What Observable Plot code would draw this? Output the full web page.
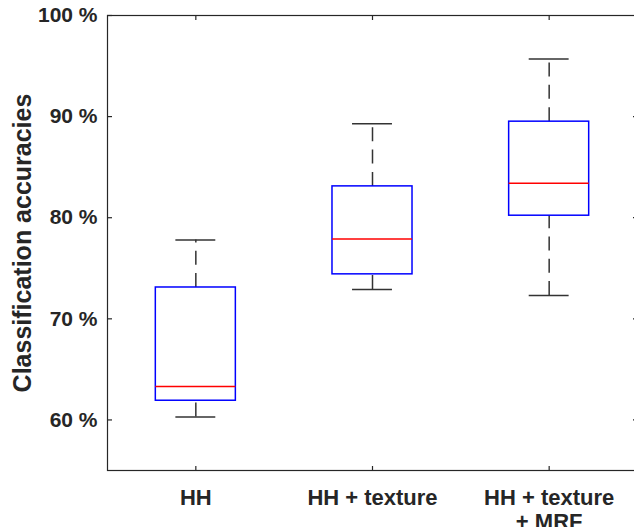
<!DOCTYPE html>
<html><head><meta charset="utf-8">
<script src="https://cdn.jsdelivr.net/npm/d3@7"></script>
<script src="https://cdn.jsdelivr.net/npm/@observablehq/plot@0.6"></script>
<style>
body{margin:0;background:#fff;overflow:hidden}
#chart{width:634px;height:527px;overflow:hidden}
#chart svg{max-width:none !important}
</style></head><body><div id="chart"></div>
<script>
const categories = ["HH", "HH + texture", "HH + texture\n+ MRF"];
const whiskerLow = [60.3, 72.9, 72.3];
const q1 = [61.9, 74.4, 80.2];
const median = [63.3, 77.9, 83.4];
const q3 = [73.1, 83.1, 89.5];
const whiskerHigh = [77.8, 89.3, 95.7];
const yTicks = [60, 70, 80, 90, 100];
const yLabel = "Classification accuracies";

const data = categories.map((c, i) => ({
  pos: i + 1, c,
  lo: whiskerLow[i], q1: q1[i], med: median[i], q3: q3[i], hi: whiskerHigh[i]
}));
const BW = 0.2265, CW = 0.113;
const ink = "#262626";

const chart = Plot.plot({
  width: 640, height: 527,
  marginLeft: 107, marginRight: 3, marginTop: 15, marginBottom: 57,
  style: {fontFamily: "'Liberation Sans', Arial, sans-serif", fontSize: "21px", fontWeight: "bold", color: ink, background: "#fff", maxWidth: "none"},
  x: {type: "linear", domain: [0.5, 3.5]},
  y: {domain: [55, 100]},
  marks: [
    Plot.frame({stroke: ink, strokeWidth: 1.2}),
    Plot.axisY(yTicks, {anchor: "left", tickSize: -5, tickPadding: 15, tickFormat: d => d + " %", label: null, strokeWidth: 1.2}),
    Plot.axisY(yTicks, {anchor: "right", tickSize: -5, tickFormat: () => "", label: null, strokeWidth: 1.2}),
    Plot.axisX([1, 2, 3], {anchor: "bottom", tickSize: -4, tickPadding: 21, tickFormat: i => categories[i - 1], fontSize: 22, lineHeight: 1.09, label: null, strokeWidth: 1.2}),
    Plot.axisX([1, 2, 3], {anchor: "top", tickSize: -4, tickFormat: () => "", label: null, strokeWidth: 1.2}),
    Plot.text([yLabel], {text: d => d, frameAnchor: "left", textAnchor: "middle", lineAnchor: "middle", rotate: -90, dx: -85, fontSize: 25, fill: ink}),
    Plot.ruleX(data, {x: "pos", y1: "lo", y2: "q1", stroke: "#333", strokeWidth: 1.5, strokeDasharray: "14,8.3"}),
    Plot.ruleX(data, {x: "pos", y1: "q3", y2: "hi", stroke: "#333", strokeWidth: 1.5, strokeDasharray: "14,8.3"}),
    Plot.ruleY(data, {y: "lo", x1: d => d.pos - CW, x2: d => d.pos + CW, stroke: "#333", strokeWidth: 1.5}),
    Plot.ruleY(data, {y: "hi", x1: d => d.pos - CW, x2: d => d.pos + CW, stroke: "#333", strokeWidth: 1.5}),
    Plot.rect(data, {x1: d => d.pos - BW, x2: d => d.pos + BW, y1: "q1", y2: "q3", fill: "none", stroke: "#0000ff", strokeWidth: 1.5}),
    Plot.ruleY(data, {y: "med", x1: d => d.pos - BW, x2: d => d.pos + BW, stroke: "#ff0000", strokeWidth: 1.5})
  ]
});
document.getElementById("chart").appendChild(chart);
</script></body></html>
